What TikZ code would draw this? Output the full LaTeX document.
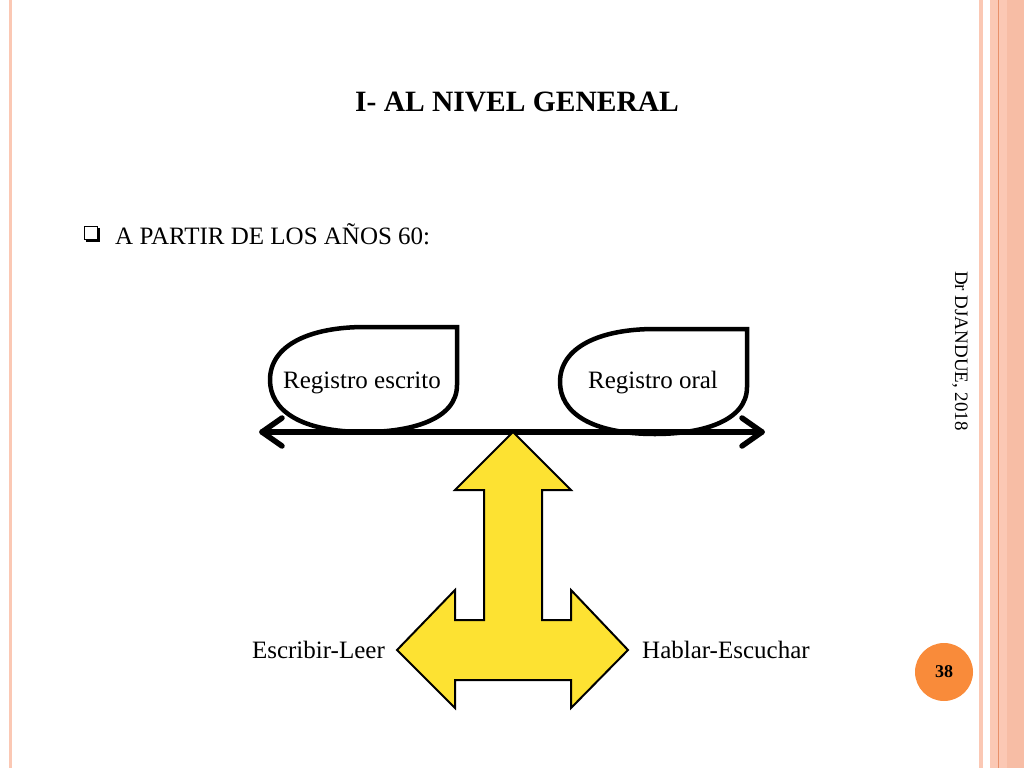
\documentclass[tikz,border=0pt]{standalone}
\usepackage{fontspec}
\setmainfont{Liberation Serif}
\definecolor{salmon}{HTML}{FBC8B4}
\definecolor{salmondark}{HTML}{E8906A}
\definecolor{pageorange}{HTML}{F98B3A}
\definecolor{armyellow}{HTML}{FDE232}
\begin{document}
\begin{tikzpicture}[x=1pt,y=-1pt,
        label/.style={font=\fontsize{25}{28}\selectfont, inner sep=0pt},
        bubble/.style={draw, line width=4.5pt, fill=white},
        stripe/.style={fill=#1, draw=none}
      ]
      \useasboundingbox (0,0) rectangle (1024,768);
      % slide border
      \fill[stripe=salmon] (9,0) rectangle (12,768);
      \fill[stripe=salmon] (979,0) rectangle (983,768);
      \fill[stripe=salmon] (990,0) rectangle (1024,768);
      \fill[stripe=salmon!80!salmondark] (1007,0) rectangle (1024,768);
      \draw[salmondark, line width=0.8pt] (998,0) -- (998,768);

      \node[font=\bfseries\fontsize{29.5}{32}\selectfont] (title) at (517,102) {I- AL NIVEL GENERAL};
      \node[draw, line width=0.8pt, minimum size=13pt, inner sep=0pt, fill=white] (box) at (91,233) {};
      \draw[line width=1.8pt] (box.south west) ++(1.5,0.9) -- ++(13,0) -- ++(0,-13);
      \node[label, anchor=west] (period) at (115,234) {A PARTIR DE LOS AÑOS 60:};
      \node[font=\fontsize{19}{22}\selectfont, rotate=-90] (author) at (960,351) {Dr DJANDUE, 2018};
      \node[circle, fill=pageorange, minimum size=58pt, inner sep=0pt,
        font=\bfseries\fontsize{18}{20}\selectfont] (page) at (944,672) {38};

      % beam
      \coordinate (bl) at (262,432);
      \coordinate (br) at (762,432);
      \draw[bubble] (457,327) -- (457,385) .. controls (457,420) and (410,432) .. (365,432)
        .. controls (300,432) and (270,410) .. (270,380)
        .. controls (270,345) and (310,327) .. (365,327) -- cycle;
      \draw[bubble] (747,329) -- (747,387) .. controls (747,422) and (700,434) .. (655,434)
        .. controls (590,434) and (560,412) .. (560,382)
        .. controls (560,347) and (600,329) .. (655,329) -- cycle;
      \node[label] (escrito) at (362,383) {Registro escrito};
      \node[label] (oral) at (653,383) {Registro oral};
      \draw[line width=5.5pt, line cap=round, line join=round] (bl) -- (br);
      \draw[line width=5.5pt, line cap=round, line join=round] (bl) ++(20,-14) -- (bl) -- ++(20,14);
      \draw[line width=5.5pt, line cap=round, line join=round] (br) ++(-20,-14) -- (br) -- ++(-20,14);

      % support arrow
      \draw[line width=2pt, line join=miter, fill=armyellow] (513,432) -- (571,490) -- (542,490) -- (542,620)
        -- (571,620) -- (571,590) -- (628,650) -- (571,708) -- (571,680) -- (455,680) -- (455,708)
        -- (397,650) -- (455,590) -- (455,620) -- (484,620) -- (484,490) -- (455,490) -- cycle;
      \node[label, anchor=east] (leer) at (385,650) {Escribir-Leer};
      \node[label, anchor=west] (hablar) at (642,650) {Hablar-Escuchar};
    \end{tikzpicture}
\end{document}
